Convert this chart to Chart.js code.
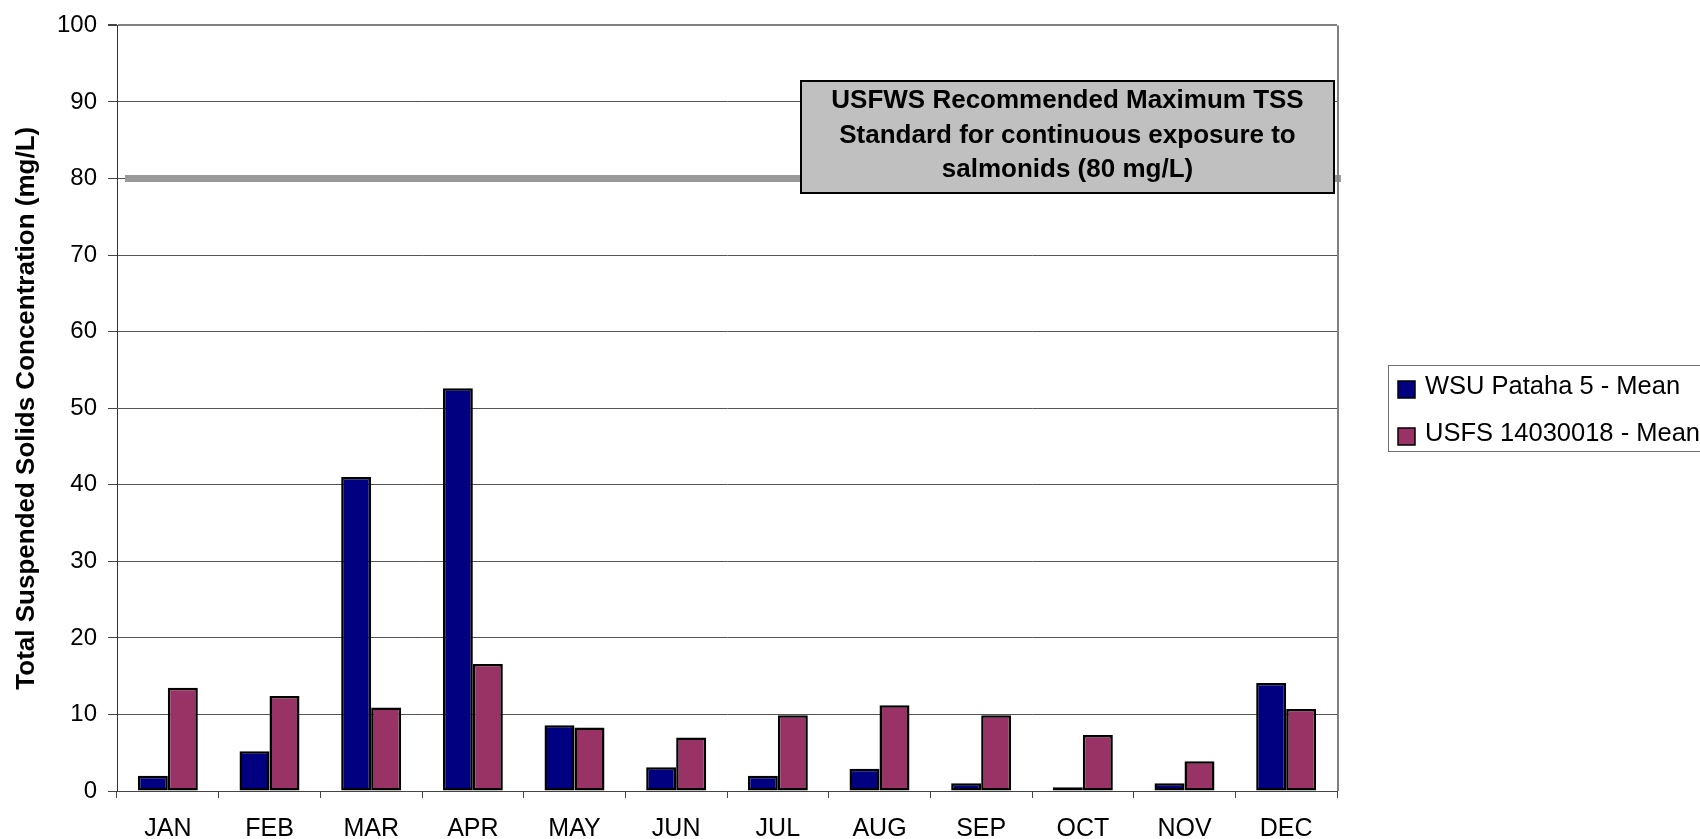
<!DOCTYPE html>
<html>
<head>
<meta charset="utf-8">
<script src="https://cdn.jsdelivr.net/npm/chart.js@4.4.0/dist/chart.umd.min.js"></script>
<style>
  html, body { margin: 0; padding: 0; background: #ffffff; }
  #wrap { width: 1700px; height: 839px; position: relative; }
</style>
</head>
<body>
<div id="wrap"><canvas id="c" width="1700" height="839"></canvas></div>
<script>
const months = ['JAN', 'FEB', 'MAR', 'APR', 'MAY', 'JUN', 'JUL', 'AUG', 'SEP', 'OCT', 'NOV', 'DEC'];
const wsuPataha5Mean = [2.0, 5.2, 41.0, 52.6, 8.6, 3.1, 2.0, 2.9, 1.0, 0.5, 1.0, 14.1];
const usfs14030018Mean = [13.5, 12.4, 10.9, 16.6, 8.3, 7.0, 9.9, 11.2, 9.9, 7.3, 3.9, 10.7];
const seriesNames = ['WSU Pataha 5 - Mean', 'USFS 14030018 - Mean'];
const seriesColors = ['#000080', '#993366'];
const yMin = 0, yMax = 100, yStep = 10;
const usfwsMaxTss = 80;
const annotationLines = ['USFWS Recommended Maximum TSS', 'Standard for continuous exposure to', 'salmonids (80 mg/L)'];
const yTitle = 'Total Suspended Solids Concentration (mg/L)';

const FONT = "'Liberation Sans', Arial, Helvetica, sans-serif";

const decorPlugin = {
  id: 'decor',
  beforeDatasetsDraw(chart) {
    const { ctx, chartArea: a, scales: { y } } = chart;
    const py = y.getPixelForValue(usfwsMaxTss);
    ctx.save();
    ctx.strokeStyle = '#999999';
    ctx.lineWidth = 7;
    ctx.beginPath();
    ctx.moveTo(a.left + 8, py);
    ctx.lineTo(a.right + 4, py);
    ctx.stroke();
    ctx.restore();
  },
  afterDraw(chart) {
    const { ctx, chartArea: a } = chart;
    ctx.save();
    // right border of plot area
    ctx.strokeStyle = '#808080';
    ctx.lineWidth = 2;
    ctx.beginPath();
    ctx.moveTo(a.right + 1, a.top);
    ctx.lineTo(a.right + 1, a.bottom);
    ctx.stroke();

    // annotation box
    const bx = 801, by = 81, bw = a.right - 3 - 801, bh = 112;
    ctx.fillStyle = '#c0c0c0';
    ctx.fillRect(bx, by, bw, bh);
    ctx.strokeStyle = '#000000';
    ctx.lineWidth = 2;
    ctx.strokeRect(bx, by, bw, bh);
    ctx.fillStyle = '#000000';
    ctx.font = 'bold 26px ' + FONT;
    ctx.textAlign = 'center';
    ctx.textBaseline = 'middle';
    const cx = bx + bw / 2;
    annotationLines.forEach((t, i) => ctx.fillText(t, cx, by + 20 + i * 34.5));

    // legend
    const lx = 1388, ly = 365, lh = 86;
    ctx.fillStyle = '#ffffff';
    ctx.fillRect(lx, ly, 1720 - lx, lh);
    ctx.strokeStyle = '#707070';
    ctx.lineWidth = 1;
    ctx.strokeRect(lx + 0.5, ly + 0.5, 1720 - lx, lh);
    ctx.font = '25.5px ' + FONT;
    ctx.textAlign = 'left';
    ctx.textBaseline = 'middle';
    chart.data.datasets.forEach((ds, i) => {
      const my = 381 + i * 47;
      ctx.fillStyle = ds.backgroundColor;
      ctx.fillRect(1398, my, 17, 17);
      ctx.strokeStyle = '#000000';
      ctx.lineWidth = 1.5;
      ctx.strokeRect(1398, my, 17, 17);
      ctx.fillStyle = '#000000';
      ctx.fillText(ds.label, 1425, my + 6);
    });
    ctx.restore();
  }
};

new Chart(document.getElementById('c'), {
  type: 'bar',
  data: {
    labels: months,
    datasets: [
      { label: seriesNames[0], data: wsuPataha5Mean, backgroundColor: seriesColors[0], borderColor: '#000000', borderWidth: 2.5, borderSkipped: false },
      { label: seriesNames[1], data: usfs14030018Mean, backgroundColor: seriesColors[1], borderColor: '#000000', borderWidth: 2.5, borderSkipped: false }
    ]
  },
  options: {
    responsive: false,
    animation: false,
    devicePixelRatio: 1,
    layout: { padding: { top: 22, right: 363, bottom: 0, left: 0 } },
    datasets: { bar: { categoryPercentage: 0.59, barPercentage: 1.0 } },
    plugins: { legend: { display: false }, tooltip: { enabled: false }, title: { display: false } },
    scales: {
      x: {
        type: 'category',
        afterFit(s) { s.height = 48; },
        grid: { display: true, drawOnChartArea: false, drawTicks: true, tickLength: 7, offset: true, color: '#444444', tickColor: '#444444' },
        border: { display: true, color: '#444444', width: 1 },
        ticks: { color: '#000000', font: { family: FONT, size: 25 }, padding: 16, autoSkip: false, maxRotation: 0 }
      },
      y: {
        min: yMin, max: yMax,
        afterFit(s) { s.width = 117; },
        grid: {
          color: (c) => (c.tick && c.tick.value === yMax) ? '#808080' : '#555555',
          lineWidth: (c) => (c.tick && c.tick.value === yMax) ? 2 : 1,
          tickLength: 9, tickColor: '#444444'
        },
        border: { display: true, color: '#333333', width: 1 },
        ticks: { stepSize: yStep, color: '#000000', font: { family: FONT, size: 24 }, padding: 11 },
        title: { display: true, text: yTitle, color: '#000000', font: { family: FONT, size: 26, weight: 'bold' }, padding: { top: 11, bottom: 0 } }
      }
    }
  },
  plugins: [decorPlugin]
});
</script>
</body>
</html>
